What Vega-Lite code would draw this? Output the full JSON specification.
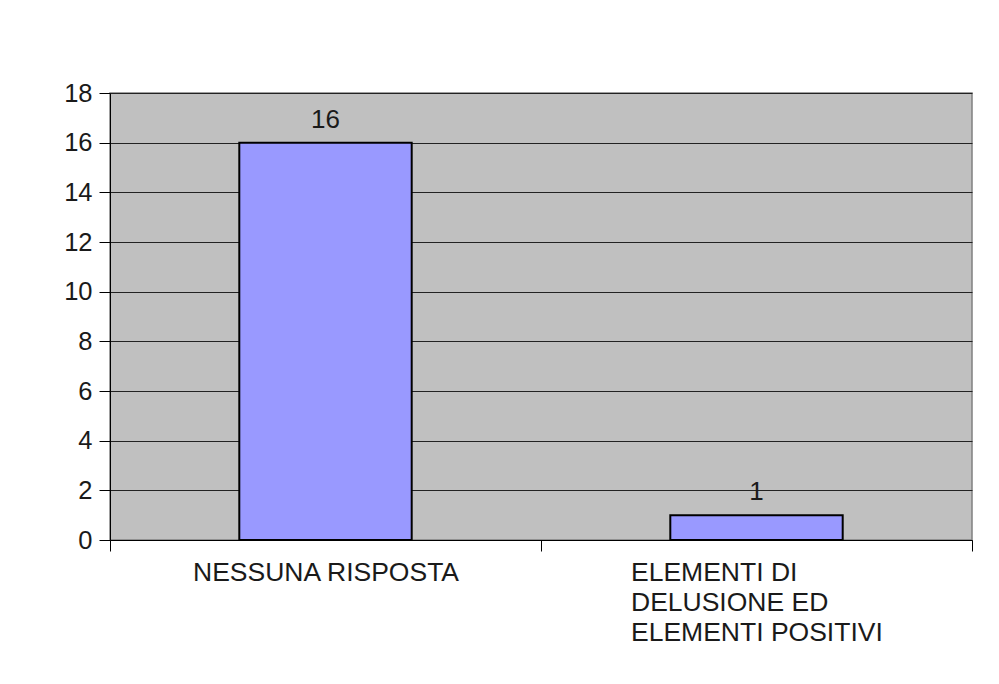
{
  "$schema": "https://vega.github.io/schema/vega-lite/v6.json",
  "width": 862,
  "height": 447,
  "autosize": "none",
  "padding": {"left": 110, "top": 93, "right": 27, "bottom": 144},
  "background": "white",
  "data": {
    "values": [
      {"categoria": "NESSUNA RISPOSTA", "valore": 16},
      {"categoria": "ELEMENTI DI DELUSIONE ED ELEMENTI POSITIVI", "valore": 1}
    ]
  },
  "encoding": {
    "x": {
      "field": "categoria",
      "type": "nominal",
      "sort": null,
      "scale": {"paddingInner": 0, "paddingOuter": 0},
      "axis": {
        "title": null,
        "labelAngle": 0,
        "tickBand": "extent",
        "tickSize": 11,
        "tickColor": "#000000",
        "domainColor": "#000000",
        "labelAlign": "left",
        "labelBaseline": "top",
        "labelPadding": 8,
        "labelFont": "Liberation Sans",
        "labelFontSize": 26.5,
        "labelLineHeight": 30,
        "labelColor": "#1a1a1a",
        "labelLimit": 500,
        "labelOffset": {"condition": {"test": "datum.value == 'NESSUNA RISPOSTA'", "value": -133}, "value": -126},
        "labelExpr": "datum.value == 'ELEMENTI DI DELUSIONE ED ELEMENTI POSITIVI' ? ['ELEMENTI DI', 'DELUSIONE ED', 'ELEMENTI POSITIVI'] : datum.label"
      }
    },
    "y": {
      "field": "valore",
      "type": "quantitative",
      "scale": {"domain": [0, 18], "nice": false},
      "axis": {
        "title": null,
        "values": [0, 2, 4, 6, 8, 10, 12, 14, 16, 18],
        "tickSize": 11,
        "tickColor": "#000000",
        "domainColor": "#000000",
        "grid": true,
        "gridColor": "#222222",
        "gridOpacity": 1,
        "labelPadding": 7,
        "labelFont": "Liberation Sans",
        "labelFontSize": 25.5,
        "labelColor": "#1a1a1a"
      }
    }
  },
  "layer": [
    {
      "mark": {"type": "bar", "width": {"band": 0.4}, "fill": "#9999ff", "stroke": "#000000", "strokeWidth": 2}
    },
    {
      "mark": {"type": "text", "baseline": "bottom", "dy": -10, "font": "Liberation Sans", "fontSize": 26, "color": "#1a1a1a"},
      "encoding": {"text": {"field": "valore", "type": "quantitative"}}
    }
  ],
  "config": {
    "view": {"fill": "#c0c0c0", "stroke": "#808080", "strokeWidth": 1.5}
  }
}
